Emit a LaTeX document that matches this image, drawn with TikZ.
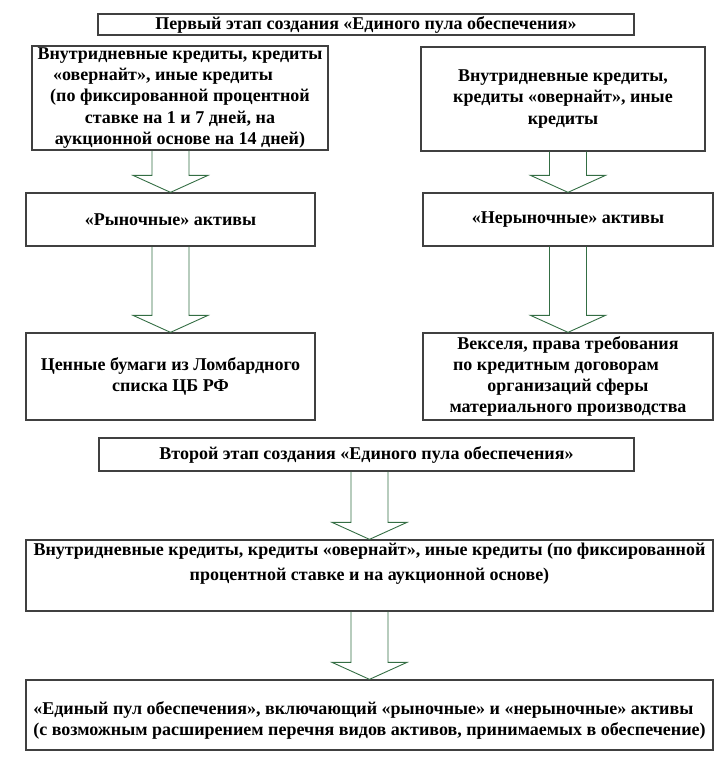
\documentclass[tikz,border=0pt]{standalone}
\usepackage{fontspec}
\setmainfont{Liberation Serif}
\usetikzlibrary{calc}
\usetikzlibrary{positioning}
\definecolor{boxgray}{RGB}{64,64,64}
\definecolor{arrowgreen}{RGB}{52,110,68}
\tikzset{pulBox/.style={draw=boxgray, line width=1.3pt, fill=white, inner sep=0pt, align=center, font={\fontsize{18}{21.2}\selectfont\bfseries}}}
\tikzset{pulTitle/.style={pulBox, line width=1.1pt}}
\tikzset{pulText/.style={align=center, inner sep=0pt, font={\fontsize{18}{25.5}\selectfont\bfseries}}}
\tikzset{pulArrow/.style={draw=arrowgreen, line width=0.9pt, line join=miter}}

% hollow block arrow from the bottom of #1 to the top of #2
\newcommand{\pulArrowDown}[2]{%
\draw[pulArrow] let \p1=(#1.south), \p2=(#2.north) in
(\x2-18.5pt,\y1) -- (\x2-18.5pt,\y2+17pt) -- (\x2-37.5pt,\y2+17pt) -- (\x2,\y2)
-- (\x2+37.5pt,\y2+17pt) -- (\x2+18.5pt,\y2+17pt) -- (\x2+18.5pt,\y1);}

\begin{document}
\begin{tikzpicture}[x=1pt,y=-1pt]
\useasboundingbox (0,0) rectangle (723,761);

% first stage
\node[pulTitle, minimum width=536pt, minimum height=21pt] (etap1) at (366,24.5) {Первый этап создания «Единого пула обеспечения»};

\node[pulBox, minimum width=296pt, minimum height=104pt] (kredL) at (180,98) {Внутридневные кредиты, кредиты\\ «овернайт», иные кредиты\hspace{34pt}\mbox{}\\ (по фиксированной процентной\\ ставке на 1 и 7 дней, на\\ аукционной основе на 14 дней)};
\node[pulBox, minimum width=284pt, minimum height=104pt] (kredR) at (563,99) {Внутридневные кредиты,\\ кредиты «овернайт», иные\\ кредиты};

\node[pulBox, minimum width=289pt, minimum height=53pt] (rynL) at (170.5,219.5) {«Рыночные» активы};
\node[pulBox, minimum width=290pt, minimum height=53pt] (nerynR) at (568,219.5) {«Нерыночные» активы};

\node[pulBox, minimum width=289pt, minimum height=87pt] (lombL) at (170.5,376.5) {Ценные бумаги из Ломбардного\\ списка ЦБ РФ};
\node[pulBox, minimum width=290pt, minimum height=87pt] (veksR) at (568,376.5) {Векселя, права требования\\ по кредитным договорам\hspace{24pt}\mbox{}\\ организаций сферы\\ материального производства};

% second stage
\node[pulTitle, minimum width=535pt, minimum height=33pt] (etap2) at (366.5,454.5) {Второй этап создания «Единого пула обеспечения»};

\node[pulBox, minimum width=687pt, minimum height=71pt] (kred2) at (369.5,575.5) {};
\node[pulText, anchor=north] (kred2txt) at ([yshift=-3pt]kred2.north) {Внутридневные кредиты, кредиты «овернайт», иные кредиты (по фиксированной\\ процентной ставке и на аукционной основе)};

\node[pulBox, minimum width=687pt, minimum height=70pt] (pul) at (369.5,715) {};
\node[pulText, align=left, font={\fontsize{18}{21}\selectfont\bfseries}] (pultxt) at ([yshift=-5pt]pul.center) {«Единый пул обеспечения», включающий «рыночные» и «нерыночные» активы\\ (с возможным расширением перечня видов активов, принимаемых в обеспечение)};

\pulArrowDown{kredL}{rynL}
\pulArrowDown{kredR}{nerynR}
\pulArrowDown{rynL}{lombL}
\pulArrowDown{nerynR}{veksR}
\pulArrowDown{etap2}{kred2}
\pulArrowDown{kred2}{pul}

\end{tikzpicture}
\end{document}
